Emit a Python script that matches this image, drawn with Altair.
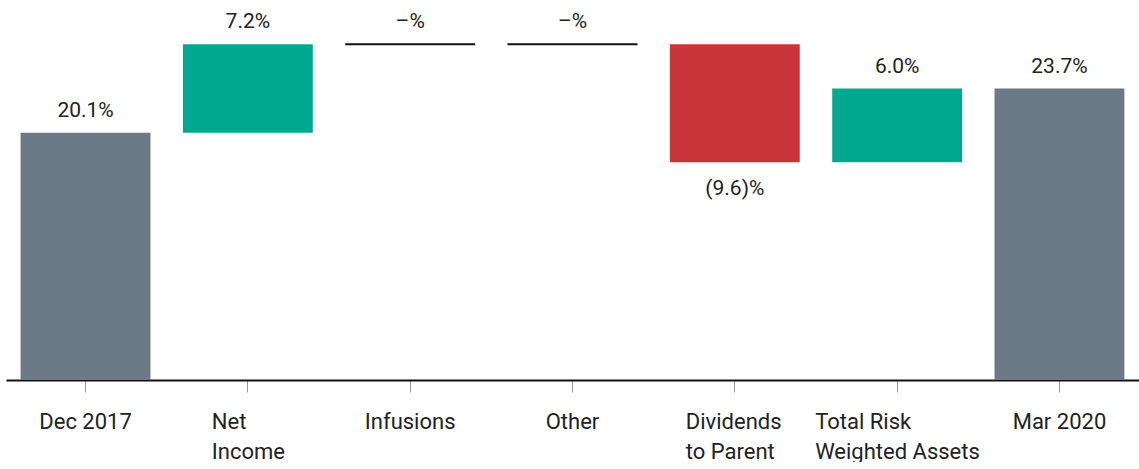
import altair as alt
import pandas as pd

categories = ["Dec 2017", "Net Income", "Infusions", "Other",
              "Dividends to Parent", "Total Risk Weighted Assets", "Mar 2020"]
values = [20.1, 7.2, 0.0, 0.0, -9.6, 6.0, 23.7]
kinds = ["total", "delta", "delta", "delta", "delta", "delta", "total"]
value_labels = ["20.1%", "7.2%", "–%", "–%", "(9.6)%", "6.0%", "23.7%"]
axis_lines = {
    "Net Income": ["Net", "Income"],
    "Dividends to Parent": ["Dividends", "to Parent"],
    "Total Risk Weighted Assets": ["Total Risk", "Weighted Assets"],
}

rows = []
running = 0.0
for cat, v, k, lab in zip(categories, values, kinds, value_labels):
    if k == "total":
        start, end = 0.0, v
        running = v
        typ = "total"
    else:
        start, end = running, running + v
        running = end
        typ = "increase" if v > 0 else ("decrease" if v < 0 else "zero")
    rows.append(dict(cat=cat, start=start, end=end, type=typ, label=lab,
                     top=max(start, end), bottom=min(start, end)))
df = pd.DataFrame(rows)

FONT = "Roboto"
TXT = "#222222"

label_expr = "".join(
    f"datum.value == '{k}' ? {v} : " for k, v in axis_lines.items()
) + "datum.label"
offsets = {"Net Income": -36, "Dividends to Parent": -49,
           "Total Risk Weighted Assets": -82}
multi_test = " || ".join(f"datum.value == '{k}'" for k in axis_lines)

x = alt.X(
    "cat:N", sort=categories, title=None,
    scale=alt.Scale(paddingInner=0.2, paddingOuter=0.09),
    axis=alt.Axis(
        labelExpr=label_expr, labelAngle=0, labelFont=FONT, labelFontSize=22,
        labelColor=TXT, labelLineHeight=30, labelPadding=19,
        labelAlign={"condition": {"test": multi_test, "value": "left"}, "value": "center"},
        labelOffset={"condition": [{"test": f"datum.value == '{k}'", "value": v}
                                   for k, v in offsets.items()], "value": 0},
        tickSize=12, tickColor="#999999", tickWidth=1,
        domainColor="#111111", domainWidth=2, labelLimit=300,
    ),
)
yscale = alt.Scale(domain=[0, 30.9])

base = alt.Chart(df)

bars = base.transform_filter("datum.type != 'zero'").mark_bar().encode(
    x=x,
    y=alt.Y("start:Q", scale=yscale, axis=None),
    y2="end:Q",
    color=alt.Color("type:N", legend=None,
                    scale=alt.Scale(domain=["total", "increase", "decrease"],
                                    range=["#6c7a87", "#00a88f", "#c8343a"])),
)

zero = base.transform_filter("datum.type == 'zero'").mark_tick(
    orient="horizontal", thickness=2, size=130, color="#111111", opacity=1
).encode(x=x, y=alt.Y("end:Q", scale=yscale, axis=None))

top_text = base.transform_filter("datum.type != 'decrease'").mark_text(
    font=FONT, fontSize=21, color=TXT, baseline="alphabetic", dy=-16
).encode(x=x, y=alt.Y("top:Q", scale=yscale, axis=None), text="label:N")

bottom_text = base.transform_filter("datum.type == 'decrease'").mark_text(
    font=FONT, fontSize=21, color=TXT, baseline="alphabetic", dy=33
).encode(x=x, y=alt.Y("bottom:Q", scale=yscale, axis=None), text="label:N")

chart = alt.layer(bars, zero, top_text, bottom_text).properties(
    width=1133, height=380, background="white",
    padding={"left": 6, "top": 0, "right": 0, "bottom": 0},
).configure_view(stroke=None, strokeWidth=0)

chart.save("out.html", embed_options={"renderer": "svg", "actions": False})
